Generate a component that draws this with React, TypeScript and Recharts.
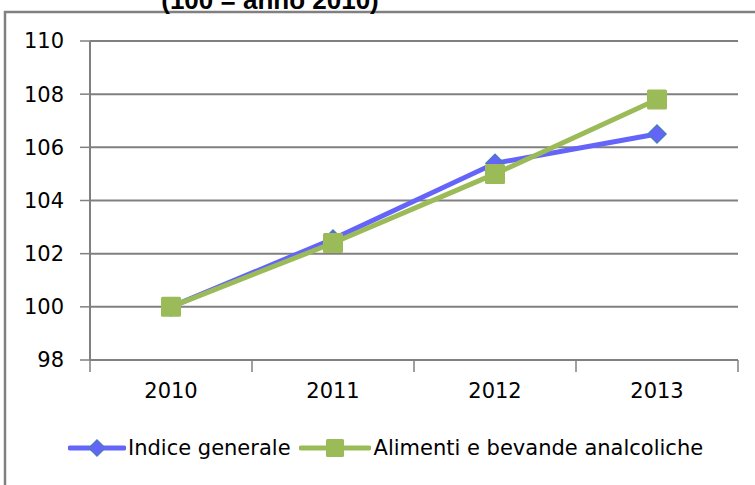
import * as React from "react";
import { LineChart, Line, XAxis, YAxis, CartesianGrid } from "recharts";

const GRAY = "#808080";
const BLUE = "#6464FA";
const BLUE_EDGE = "#4A7EBB";
const GREEN = "#9BBB59";
const FONT = "'DejaVu Sans', Verdana, sans-serif";

const YEARS = ["2010", "2011", "2012", "2013"];
const INDICE_GENERALE = [100, 102.55, 105.4, 106.5];
const ALIMENTI = [100, 102.4, 105.0, 107.8];
const Y_TICKS = [98, 100, 102, 104, 106, 108, 110];
const X_BOUNDS = [0, 1, 2, 3, 4];

const data = YEARS.map((year, i) => ({
  year,
  pos: i + 0.5,
  indice: INDICE_GENERALE[i],
  alimenti: ALIMENTI[i],
}));

function Diamond({ cx, cy, r = 9 }: { cx: number; cy: number; r?: number }) {
  return (
    <path
      d={`M${cx},${cy - r} L${cx + r},${cy} L${cx},${cy + r} L${cx - r},${cy} Z`}
      fill={BLUE}
      stroke={BLUE_EDGE}
      strokeWidth={1.5}
    />
  );
}

function Square({ cx, cy, s = 10 }: { cx: number; cy: number; s?: number }) {
  return <rect x={cx - s} y={cy - s} width={s * 2} height={s * 2} rx={1.5} fill={GREEN} />;
}

// labels sit in the middle of each band, tick marks sit on the band edges
function YearTick(props: any) {
  const { x, y, payload, width } = props;
  const label = YEARS[payload.value];
  if (!label) return null;
  const half = (width ?? 648) / YEARS.length / 2;
  return (
    <text x={x + half} y={y + 24} textAnchor="middle" fill="#000" fontSize={21} fontFamily={FONT}>
      {label}
    </text>
  );
}

function LegendIcon({ kind }: { kind: "diamond" | "square" }) {
  return (
    <svg width={kind === "diamond" ? 58 : 72} height={24} style={{ display: "block" }}>
      <line x1={2} y1={12} x2={kind === "diamond" ? 56 : 70} y2={12} stroke={kind === "diamond" ? BLUE : GREEN} strokeWidth={5} strokeLinecap="round" />
      {kind === "diamond" ? <Diamond cx={29} cy={12} r={8} /> : <Square cx={36} cy={12} s={9} />}
    </svg>
  );
}

export default function App() {
  return (
    <div style={{ position: "absolute", left: 0, top: 0, width: 755, height: 485, overflow: "hidden", background: "#fff" }}>
      <svg width={755} height={485} style={{ position: "absolute", left: 0, top: 0 }}>
        <rect x={5} y={12} width={800} height={500} fill="none" stroke={GRAY} strokeWidth={2.5} />
        <text x={270} y={9} textAnchor="middle" fontSize={26} fontWeight="bold" fontFamily="'Liberation Sans', Arial, sans-serif">
          (100 = anno 2010)
        </text>
      </svg>
      <div style={{ position: "absolute", left: 0, top: 0 }}>
        <LineChart width={755} height={485} data={data} margin={{ top: 41, right: 17, bottom: 85, left: 30 }}>
          <CartesianGrid vertical={false} stroke={GRAY} strokeWidth={2} />
          <XAxis
            dataKey="pos"
            type="number"
            domain={[0, 4]}
            ticks={X_BOUNDS}
            interval={0}
            height={40}
            tickSize={12}
            tick={<YearTick />}
            axisLine={{ stroke: GRAY, strokeWidth: 2 }}
            tickLine={{ stroke: GRAY, strokeWidth: 1.5 }}
          />
          <YAxis
            domain={[98, 110]}
            ticks={Y_TICKS}
            interval={0}
            width={60}
            tickSize={10}
            tickMargin={16}
            tick={{ fill: "#000", fontSize: 21, fontFamily: FONT }}
            axisLine={{ stroke: GRAY, strokeWidth: 2 }}
            tickLine={{ stroke: GRAY, strokeWidth: 1.5 }}
          />
          <Line
            dataKey="indice"
            stroke={BLUE}
            strokeWidth={5}
            isAnimationActive={false}
            dot={(p: any) => <Diamond key={`d-${p.index}`} cx={p.cx} cy={p.cy} />}
          />
          <Line
            dataKey="alimenti"
            stroke={GREEN}
            strokeWidth={5}
            isAnimationActive={false}
            dot={(p: any) => <Square key={`s-${p.index}`} cx={p.cx} cy={p.cy} />}
          />
        </LineChart>
      </div>
      <div
        style={{
          position: "absolute",
          left: 68,
          top: 436,
          display: "flex",
          alignItems: "center",
          fontFamily: FONT,
          fontSize: 21,
          color: "#000",
        }}
      >
        <LegendIcon kind="diamond" />
        <span style={{ marginLeft: 2, marginRight: 8 }}>Indice generale</span>
        <LegendIcon kind="square" />
        <span style={{ marginLeft: 3 }}>Alimenti e bevande analcoliche</span>
      </div>
    </div>
  );
}
